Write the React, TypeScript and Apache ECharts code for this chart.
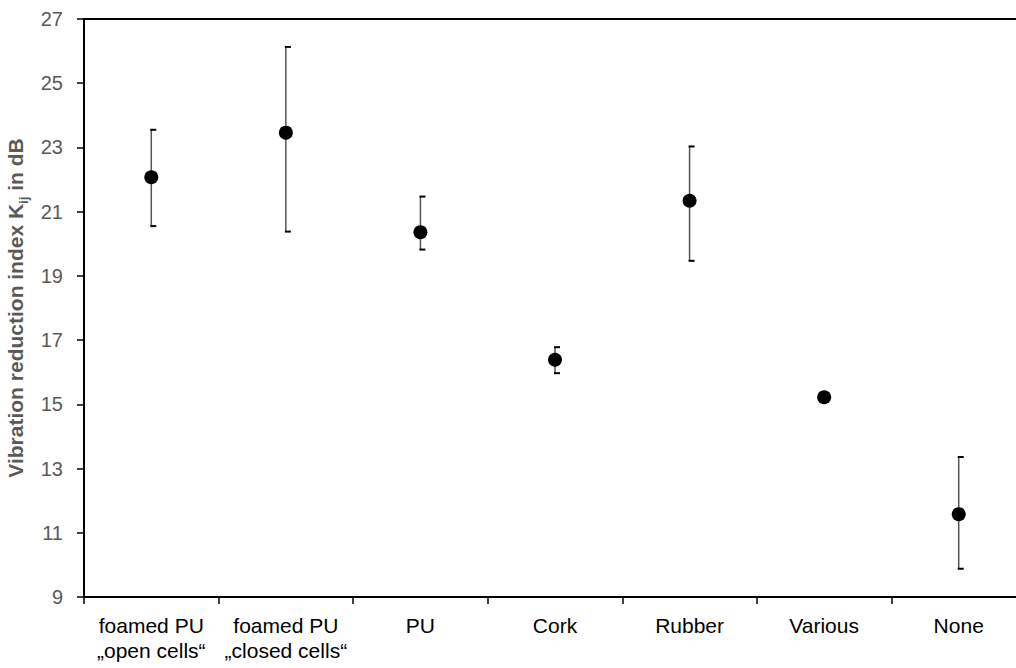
import React, { useEffect, useRef } from "react";
import * as echarts from "echarts";

const categories = [
  "foamed PU\n„open cells“",
  "foamed PU\n„closed cells“",
  "PU",
  "Cork",
  "Rubber",
  "Various",
  "None",
];
const meanValues = [22.07, 23.46, 20.36, 16.39, 21.34, 15.22, 11.58];
const lowValues = [20.55, 20.38, 19.82, 15.97, 19.47, 15.12, 9.88];
const highValues = [23.55, 26.13, 21.47, 16.78, 23.03, 15.3, 13.36];
const yTicks = [9, 11, 13, 15, 17, 19, 21, 23, 25, 27];

export default function App() {
  const ref = useRef<HTMLDivElement>(null);
  useEffect(() => {
    if (!ref.current) return;
    const chart = echarts.init(ref.current, undefined, { renderer: "svg" });
    const errData = categories.map((_, i) => [i, lowValues[i], highValues[i]]);
    chart.setOption({
      animation: false,
      backgroundColor: "#ffffff",
      grid: {
        left: 84,
        top: 19,
        right: -10,
        bottom: 71,
        show: false,
        containLabel: false,
        outerBoundsMode: "none",
      },
      xAxis: [
        {
          type: "category",
          data: categories,
          boundaryGap: true,
          axisLine: { show: true, lineStyle: { color: "#000", width: 2 } },
          axisTick: { show: true, length: 7, lineStyle: { color: "#000", width: 1.5 } },
          axisLabel: {
            color: "#000",
            fontFamily: "Liberation Sans, Arial, sans-serif",
            fontSize: 21,
            lineHeight: 25,
            margin: 16,
            interval: 0,
          },
          splitLine: { show: false },
        },
        {
          type: "category",
          data: categories,
          position: "top",
          axisLine: { show: true, lineStyle: { color: "#000", width: 2 } },
          axisTick: { show: false },
          axisLabel: { show: false },
        },
      ],
      yAxis: {
        type: "value",
        min: yTicks[0],
        max: yTicks[yTicks.length - 1],
        interval: 2,
        axisLine: { show: true, lineStyle: { color: "#000", width: 2 } },
        axisTick: { show: true, length: 7, lineStyle: { color: "#000", width: 1.5 } },
        splitLine: { show: false },
        axisLabel: {
          color: "#595959",
          fontFamily: "Liberation Sans, Arial, sans-serif",
          fontSize: 20,
          margin: 21,
        },
        name: "Vibration reduction index K{sub|ij} in dB",
        nameLocation: "middle",
        nameRotate: 90,
        nameGap: 44,
        nameTextStyle: {
          color: "#595959",
          fontFamily: "Liberation Sans, Arial, sans-serif",
          fontSize: 21,
          fontWeight: "bold",
          lineHeight: 28,
          rich: {
            sub: {
              color: "#595959",
              fontFamily: "Liberation Sans, Arial, sans-serif",
              fontSize: 13,
              fontWeight: "bold",
              lineHeight: 15,
              verticalAlign: "bottom",
            },
          },
        },
      },
      series: [
        {
          type: "custom",
          data: errData,
          z: 2,
          renderItem: (params: any, api: any) => {
            const i = api.value(0);
            const top = api.coord([i, api.value(2)]);
            const bot = api.coord([i, api.value(1)]);
            const x = top[0];
            return {
              type: "group",
              children: [
                {
                  type: "line",
                  shape: { x1: x, y1: top[1], x2: x, y2: bot[1] },
                  style: { stroke: "#555", lineWidth: 1.5 },
                },
                {
                  type: "line",
                  shape: { x1: x - 1, y1: top[1], x2: x + 5, y2: top[1] },
                  style: { stroke: "#000", lineWidth: 2 },
                },
                {
                  type: "line",
                  shape: { x1: x - 1, y1: bot[1], x2: x + 5, y2: bot[1] },
                  style: { stroke: "#000", lineWidth: 2 },
                },
              ],
            };
          },
        },
        {
          type: "scatter",
          data: meanValues,
          symbol: "circle",
          symbolSize: 14,
          z: 3,
          itemStyle: { color: "#000", opacity: 1 },
        },
      ],
    });
    return () => chart.dispose();
  }, []);
  return (
    <div
      ref={ref}
      style={{ position: "absolute", left: 0, top: 0, width: 1016, height: 668 }}
    />
  );
}
